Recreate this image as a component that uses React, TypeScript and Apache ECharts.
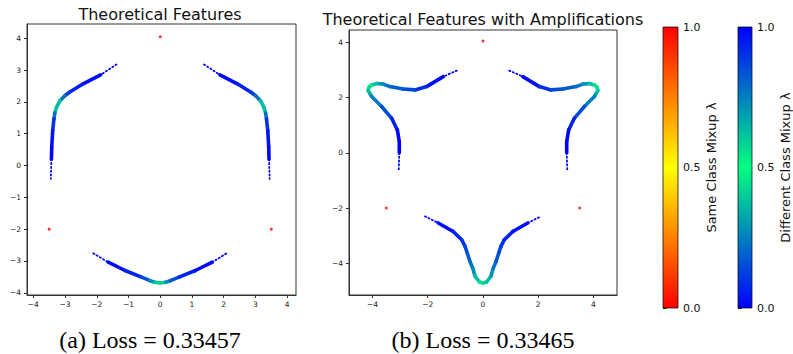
import React, { useEffect, useRef } from 'react';
import * as echarts from 'echarts';

// ---- tick labels ----
const TICKS_A = [-4, -3, -2, -1, 0, 1, 2, 3, 4];
const TICKS_B = [-4, -2, 0, 2, 4];
const CBAR_TICKS = [0, 0.5, 1];

// ---- class centres (same class mixup λ) ----
const CENTERS_A = [[0, 4.05, 0], [-3.5, -2, 0], [3.5, -2, 0]];
const CENTERS_B = [[0, 4.05, 0], [-3.5, -2, 0], [3.5, -2, 0]];

// ---- (a) Theoretical features: [x, y, different-class λ] ----
const A_UPPER_LEFT = [
  [-1.38, 3.18, 0.0], [-1.88, 2.85, 0.0], [-2.43, 2.57, 0.04], [-2.85, 2.31, 0.08],
  [-3.0, 2.2, 0.15], [-3.16, 2.04, 0.3], [-3.27, 1.83, 0.45], [-3.32, 1.66, 0.3],
  [-3.35, 1.47, 0.15], [-3.39, 1.1, 0.05], [-3.42, 0.58, 0.02], [-3.43, 0.2, 0.0],
  [-3.45, -0.42, 0.0],
];
const A_UPPER_RIGHT = [
  [1.38, 3.18, 0.0], [1.88, 2.85, 0.0], [2.43, 2.57, 0.04], [2.85, 2.31, 0.08],
  [3.0, 2.2, 0.15], [3.16, 2.04, 0.3], [3.27, 1.83, 0.45], [3.32, 1.66, 0.3],
  [3.35, 1.47, 0.15], [3.39, 1.1, 0.05], [3.42, 0.58, 0.02], [3.43, 0.2, 0.0],
  [3.45, -0.42, 0.0],
];
const A_BOTTOM = [
  [-2.11, -2.76, 0.0], [-1.64, -3.04, 0.0], [-1.11, -3.3, 0.04], [-0.59, -3.51, 0.1],
  [-0.32, -3.62, 0.22], [-0.17, -3.67, 0.35], [0.0, -3.69, 0.45], [0.17, -3.67, 0.35],
  [0.32, -3.62, 0.22], [0.59, -3.51, 0.1], [1.11, -3.3, 0.04], [1.64, -3.04, 0.0],
  [2.09, -2.76, 0.0],
];

// ---- (b) Theoretical features with amplifications ----
const B_UPPER_LEFT = [
  [-0.95, 2.98, 0.0], [-1.44, 2.76, 0.0], [-2.04, 2.4, 0.06], [-2.46, 2.28, 0.12],
  [-2.89, 2.31, 0.16], [-3.37, 2.4, 0.2], [-3.61, 2.49, 0.25], [-3.85, 2.51, 0.33],
  [-4.03, 2.46, 0.42], [-4.12, 2.38, 0.45], [-4.16, 2.26, 0.42], [-4.09, 2.14, 0.35],
  [-4.03, 2.04, 0.3], [-3.67, 1.68, 0.2], [-3.31, 1.26, 0.1], [-3.1, 0.83, 0.03],
  [-3.03, 0.41, 0.0], [-3.03, 0.0, 0.0], [-3.05, -0.62, 0.0],
];
const B_UPPER_RIGHT = [
  [0.95, 2.98, 0.0], [1.44, 2.76, 0.0], [2.04, 2.4, 0.06], [2.46, 2.28, 0.12],
  [2.89, 2.31, 0.16], [3.37, 2.4, 0.2], [3.61, 2.49, 0.25], [3.85, 2.51, 0.33],
  [4.03, 2.46, 0.42], [4.12, 2.38, 0.45], [4.16, 2.26, 0.42], [4.09, 2.14, 0.35],
  [4.03, 2.04, 0.3], [3.67, 1.68, 0.2], [3.31, 1.26, 0.1], [3.1, 0.83, 0.03],
  [3.03, 0.41, 0.0], [3.03, 0.0, 0.0], [3.05, -0.62, 0.0],
];
const B_BOTTOM = [
  [-2.1, -2.3, 0.0], [-1.62, -2.54, 0.0], [-1.08, -2.85, 0.05], [-0.77, -3.15, 0.08],
  [-0.65, -3.39, 0.12], [-0.57, -3.63, 0.15], [-0.47, -3.94, 0.2], [-0.37, -4.18, 0.25],
  [-0.29, -4.46, 0.32], [-0.13, -4.68, 0.42], [0.0, -4.72, 0.45], [0.13, -4.68, 0.42],
  [0.29, -4.46, 0.32], [0.37, -4.18, 0.25], [0.47, -3.94, 0.2], [0.57, -3.63, 0.15],
  [0.65, -3.39, 0.12], [0.77, -3.15, 0.08], [1.08, -2.85, 0.05], [1.62, -2.54, 0.0],
  [2.1, -2.3, 0.0],
];

const TITLE_A = 'Theoretical Features';
const TITLE_B = 'Theoretical Features with Amplifications';
const CAPTION_A = '(a) Loss = 0.33457';
const CAPTION_B = '(b) Loss = 0.33465';
const CBAR_SAME = 'Same Class Mixup λ';
const CBAR_DIFF = 'Different Class Mixup λ';

const DIFF_COLORS = ['#0000ff', '#00ff80', '#0000ff'];
const SAME_COLORS = ['#ff0000', '#ffff00', '#ff0000'];

function segments(arms: number[][][]) {
  const out: number[][] = [];
  arms.forEach((arm) => {
    for (let i = 0; i < arm.length - 1; i++) {
      const tail = i === 0 || i === arm.length - 2 ? 1 : 0;
      out.push([arm[i][0], arm[i][1], arm[i + 1][0], arm[i + 1][1], (arm[i][2] + arm[i + 1][2]) / 2, tail]);
    }
  });
  return out;
}

const fmt = (v: number) => (v < 0 ? '\u2212' + Math.abs(v) : String(v));

export default function App() {
  const ref = useRef<HTMLDivElement>(null);
  useEffect(() => {
    document.body.style.margin = '0';
    const chart = echarts.init(ref.current!, null, { renderer: 'svg' });
    const font = 'DejaVu Sans';
    const axisColor = '#333';

    const plotX = (idx: number, min: number, max: number, ticks: number[]) => ({
      type: 'value', gridIndex: idx, min, max, position: 'bottom',
      axisLine: { show: true, onZero: false, lineStyle: { color: axisColor, width: 1 } },
      axisTick: { show: true, inside: false, length: 3, customValues: ticks, lineStyle: { color: axisColor } },
      axisLabel: { customValues: ticks, formatter: fmt, fontFamily: font, fontSize: 7.5, color: '#222', margin: 5 },
      splitLine: { show: false },
    });
    const plotY = (idx: number, min: number, max: number, ticks: number[]) => ({
      type: 'value', gridIndex: idx, min, max, position: 'left',
      axisLine: { show: true, onZero: false, lineStyle: { color: axisColor, width: 1 } },
      axisTick: { show: true, inside: false, length: 3, customValues: ticks, lineStyle: { color: axisColor } },
      axisLabel: { customValues: ticks, formatter: fmt, fontFamily: font, fontSize: 7.5, color: '#222', margin: 6 },
      splitLine: { show: false },
    });
    const cbarX = (idx: number) => ({ type: 'value', gridIndex: idx, min: 0, max: 1, show: false });
    const cbarY = (idx: number, name: string) => ({
      type: 'value', gridIndex: idx, min: 0, max: 1, position: 'right',
      name, nameLocation: 'middle', nameRotate: 90, nameGap: 27,
      nameTextStyle: { fontFamily: font, fontSize: 13, color: '#111' },
      axisLine: { show: false },
      axisTick: { show: true, inside: false, length: 3.5, customValues: CBAR_TICKS, lineStyle: { color: '#111' } },
      axisLabel: { customValues: CBAR_TICKS, formatter: (v: number) => v.toFixed(1), fontFamily: font, fontSize: 11, color: '#111', margin: 5 },
      splitLine: { show: false },
    });

    const curveSeries = (idx: number, arms: number[][][]) => ({
      type: 'custom', xAxisIndex: idx, yAxisIndex: idx,
      encode: { x: [0, 2], y: [1, 3] },
      data: segments(arms),
      renderItem: (params: any, api: any) => {
        const p1 = api.coord([api.value(0), api.value(1)]);
        const p2 = api.coord([api.value(2), api.value(3)]);
        const tail = api.value(5) === 1;
        return {
          type: 'line',
          shape: { x1: p1[0], y1: p1[1], x2: p2[0], y2: p2[1] },
          style: {
            stroke: api.visual('color'),
            lineWidth: tail ? 1.8 : 3.6,
            lineCap: 'round',
            lineDash: tail ? [1.2, 2.6] : null,
          },
        };
      },
    });
    const centerSeries = (idx: number, data: number[][]) => ({
      type: 'scatter', xAxisIndex: idx, yAxisIndex: idx, data, symbol: 'circle', symbolSize: 3,
    });
    const cbarSeries = (idx: number, colors: string[]) => ({
      type: 'custom', xAxisIndex: idx, yAxisIndex: idx, data: [[0, 0]], silent: true,
      renderItem: (params: any, api: any) => {
        const p0 = api.coord([0, 1]);
        const p1 = api.coord([1, 0]);
        return {
          type: 'rect',
          shape: { x: p0[0], y: p0[1], width: p1[0] - p0[0], height: p1[1] - p0[1] },
          style: {
            fill: new echarts.graphic.LinearGradient(0, 0, 0, 1, [
              { offset: 0, color: colors[2] },
              { offset: 0.5, color: colors[1] },
              { offset: 1, color: colors[0] },
            ]),
            stroke: '#111', lineWidth: 0.8,
          },
        };
      },
    });

    chart.setOption({
      animation: false,
      backgroundColor: '#fff',
      grid: [
        { left: 27, top: 24, width: 269, height: 271, show: true, borderColor: axisColor, borderWidth: 1 },
        { left: 349, top: 30, width: 268, height: 265, show: true, borderColor: axisColor, borderWidth: 1 },
        { left: 663, top: 27, width: 15, height: 281 },
        { left: 738, top: 27, width: 15, height: 281 },
      ],
      xAxis: [plotX(0, -4.2, 4.28, TICKS_A), plotX(1, -4.85, 4.85, TICKS_B), cbarX(2), cbarX(3)],
      yAxis: [plotY(0, -4.07, 4.45, TICKS_A), plotY(1, -5.15, 4.45, TICKS_B), cbarY(2, CBAR_SAME), cbarY(3, CBAR_DIFF)],
      visualMap: [
        { type: 'continuous', show: false, seriesIndex: [0, 1], dimension: 4, min: 0, max: 1, inRange: { color: DIFF_COLORS } },
        { type: 'continuous', show: false, seriesIndex: [2, 3], dimension: 2, min: 0, max: 1, inRange: { color: SAME_COLORS } },
      ],
      series: [
        curveSeries(0, [A_UPPER_LEFT, A_UPPER_RIGHT, A_BOTTOM]),
        curveSeries(1, [B_UPPER_LEFT, B_UPPER_RIGHT, B_BOTTOM]),
        centerSeries(0, CENTERS_A),
        centerSeries(1, CENTERS_B),
        cbarSeries(2, SAME_COLORS),
        cbarSeries(3, DIFF_COLORS),
      ],
      graphic: [
        { type: 'text', x: 160, y: 14.5, style: { text: TITLE_A, fontFamily: font, fontSize: 16, fill: '#111', align: 'center', verticalAlign: 'middle' } },
        { type: 'text', x: 483, y: 19.5, style: { text: TITLE_B, fontFamily: font, fontSize: 16, fill: '#111', align: 'center', verticalAlign: 'middle' } },
        { type: 'text', x: 150, y: 340, style: { text: CAPTION_A, fontFamily: 'Liberation Serif', fontSize: 24, fill: '#000', align: 'center', verticalAlign: 'middle' } },
        { type: 'text', x: 483, y: 340, style: { text: CAPTION_B, fontFamily: 'Liberation Serif', fontSize: 24, fill: '#000', align: 'center', verticalAlign: 'middle' } },
      ],
    });
    return () => chart.dispose();
  }, []);
  return <div ref={ref} style={{ width: 793, height: 354 }} />;
}
